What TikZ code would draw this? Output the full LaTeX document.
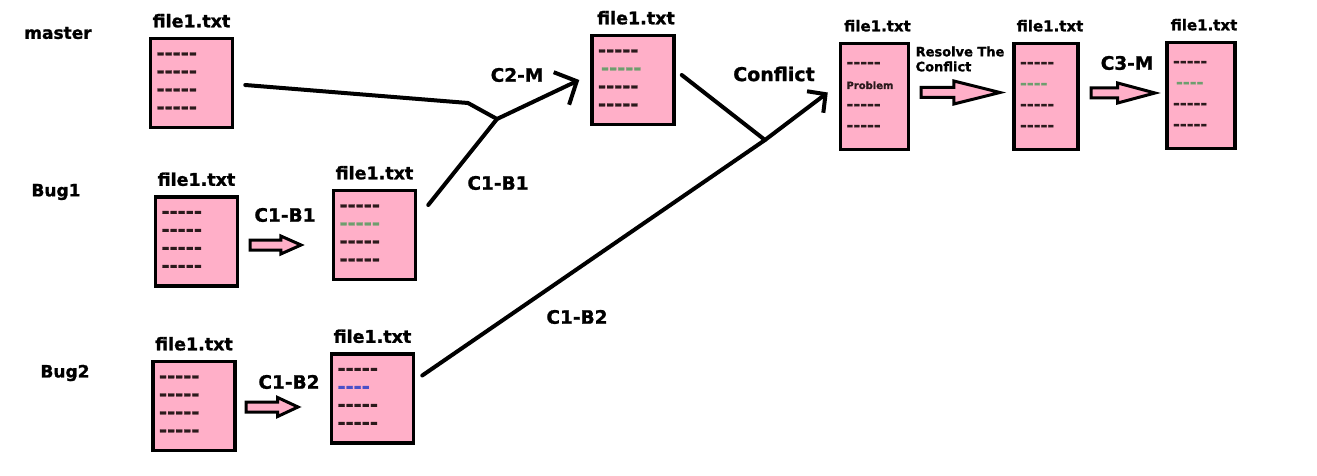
\documentclass[tikz,border=0pt]{standalone}
\usepackage{fontspec}
\setsansfont{DejaVu Sans}[BoldFeatures={FakeBold=1.2}]
\usepackage{tikz}
\usetikzlibrary{positioning,shapes.arrows,arrows.meta}

\definecolor{paintpink}{HTML}{FFAFC8}
\definecolor{dashdark}{HTML}{2B1A1C}
\definecolor{dashgreen}{HTML}{6E9E6E}
\definecolor{dashblue}{HTML}{4A50C8}

\tikzset{
  filebox/.style={draw, line width=3.5pt, fill=paintpink, align=left,
    inner xsep=6pt, inner ysep=0pt, text=dashdark, text width=70pt,
    minimum height=89pt, font=\sffamily\bfseries\fontsize{19.5}{18}\selectfont},
  tallbox/.style={filebox, text width=56pt, minimum height=106pt,
    font=\sffamily\bfseries\fontsize{16.5}{21}\selectfont},
  filename/.style={inner sep=3pt, font=\sffamily\bfseries\fontsize{17.5}{20}\selectfont},
  smallname/.style={filename, font=\sffamily\bfseries\fontsize{15}{18}\selectfont},
  branch/.style={font=\sffamily\bfseries\fontsize{17}{20}\selectfont},
  commit/.style={font=\sffamily\bfseries\fontsize{18.5}{20}\selectfont},
  fatarrow/.style={single arrow, draw, fill=paintpink, line width=3pt,
    inner sep=0pt, text height=7pt, text depth=0pt, anchor=tail},
  merge/.style={line width=4pt, line cap=round, line join=round},
}

\begin{document}
\begin{tikzpicture}[x=1pt, y=-1pt]
  \useasboundingbox (0,0) rectangle (1317,476);

  % branches
  \node[branch] (master) at (58,33) {master};
  \node[branch] (bug1) at (56,192) {Bug1};
  \node[branch] (bug2) at (65,373) {Bug2};

  % files
  \node[filebox] (m0) at (191.5,83) {‐‐‐‐‐\\‐‐‐‐‐\\‐‐‐‐‐\\‐‐‐‐‐};
  \node[filebox] (m1) at (633,80) {‐‐‐‐‐\\\hspace{3pt}\textcolor{dashgreen}{‐‐‐‐‐}\\‐‐‐‐‐\\‐‐‐‐‐};
  \node[filebox] (b1a) at (196.5,241.5) {‐‐‐‐‐\\‐‐‐‐‐\\‐‐‐‐‐\\‐‐‐‐‐};
  \node[filebox] (b1b) at (374.5,235) {‐‐‐‐‐\\\textcolor{dashgreen}{‐‐‐‐‐}\\‐‐‐‐‐\\‐‐‐‐‐};
  \node[filebox] (b2a) at (194,406) {‐‐‐‐‐\\‐‐‐‐‐\\‐‐‐‐‐\\‐‐‐‐‐};
  \node[filebox] (b2b) at (372.5,398.5) {‐‐‐‐‐\\\textcolor{dashblue}{‐‐‐‐}\\‐‐‐‐‐\\‐‐‐‐‐};
  \node[tallbox] (c) at (874.5,96.5) {‐‐‐‐‐\\{\fontsize{10}{12}\selectfont Problem}\\‐‐‐‐‐\\‐‐‐‐‐};
  \node[tallbox, text width=52pt] (r) at (1046,96.5) {‐‐‐‐‐\\\textcolor{dashgreen}{‐‐‐‐}\\‐‐‐‐‐\\‐‐‐‐‐};
  \node[tallbox] (f) at (1201,95.5) {‐‐‐‐‐\\\hspace{3pt}\textcolor{dashgreen}{‐‐‐‐}\\‐‐‐‐‐\\‐‐‐‐‐};

  \node[filename, above=6pt of m0] (m0t) {file1.txt};
  \node[filename, above=6pt of m1, xshift=3pt] (m1t) {file1.txt};
  \node[filename, above=6pt of b1a] (b1at) {file1.txt};
  \node[filename, above=6pt of b1b] (b1bt) {file1.txt};
  \node[filename, above=6pt of b2a] (b2at) {file1.txt};
  \node[filename, above=6pt of b2b] (b2bt) {file1.txt};
  \node[smallname, above=7pt of c, xshift=3pt] (ct) {file1.txt};
  \node[smallname, above=7pt of r, xshift=4pt] (rt) {file1.txt};
  \node[smallname, above=7pt of f, xshift=3pt] (ft) {file1.txt};

  % commits inside a branch
  \node[fatarrow, minimum height=51pt, single arrow head extend=4pt,
    single arrow tip angle=48] (a1) at (248.5,245) {};
  \node[fatarrow, minimum height=52pt, single arrow head extend=4.5pt,
    single arrow tip angle=50] (a2) at (244.5,407) {};
  \node[fatarrow, minimum height=79pt, single arrow head extend=6.5pt,
    single arrow tip angle=28] (a3) at (919.5,92.5) {};
  \node[fatarrow, minimum height=64pt, single arrow head extend=5pt,
    single arrow tip angle=30] (a4) at (1089.5,93) {};

  \node[commit] (c1b1) at (285,215) {C1-B1};
  \node[commit] (c1b2) at (289,382) {C1-B2};
  \node[commit] (c3m) at (1127,63) {C3-M};
  \node[align=left, font=\sffamily\bfseries\fontsize{13}{15}\selectfont]
    (resolve) at (960,59) {Resolve The\\Conflict};

  % merges
  \coordinate (bend) at (468,103);
  \coordinate (j1) at (497,119);
  \coordinate (j2) at (765,140);

  \draw[merge] ([shift={(11pt,-2pt)}]m0.east) -- (bend) -- (j1);
  \draw[merge, -{Straight Barb[length=17pt,width=36pt]}]
    ([shift={(11pt,30pt)}]b1b.east) -- (j1) -- ([xshift=-11pt]m1.west);
  \draw[merge] ([shift={(6pt,5pt)}]m1.east) -- (j2);
  \draw[merge, -{Straight Barb[length=13pt,width=27pt]}]
    ([shift={(7pt,23pt)}]b2b.east) -- (j2) -- ([shift={(-11pt,4pt)}]c.west);

  \node[commit] (c2m) at (517,75) {C2-M};
  \node[commit] (c1b1m) at (498,183) {C1-B1};
  \node[commit] (c1b2m) at (577,317) {C1-B2};
  \node[commit, font=\sffamily\bfseries\fontsize{19}{20}\selectfont] (conflict) at (774,74) {Conflict};
\end{tikzpicture}
\end{document}
